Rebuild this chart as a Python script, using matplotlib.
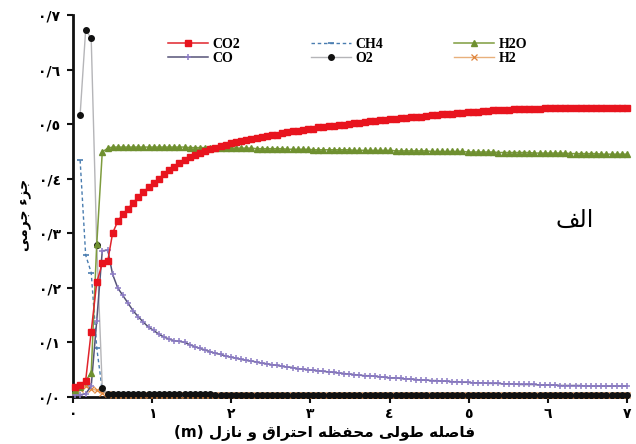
import numpy as np
import matplotlib
matplotlib.use("Agg")
import matplotlib.pyplot as plt

nan = float("nan")

# ---------------- data ----------------
x_pos = [0.02, 0.09, 0.16, 0.23, 0.30, 0.37, 0.44,
         0.5, 0.565, 0.63, 0.695, 0.76, 0.825, 0.89, 0.955, 1.02, 1.085,
         1.15, 1.215, 1.28, 1.345, 1.41, 1.475, 1.54, 1.605, 1.67, 1.735,
         1.8, 1.865, 1.93, 1.995, 2.06, 2.125, 2.19, 2.255, 2.32, 2.385,
         2.45, 2.515, 2.58, 2.645, 2.71, 2.775, 2.84, 2.905, 2.97, 3.035,
         3.1, 3.165, 3.23, 3.295, 3.36, 3.425, 3.49, 3.555, 3.62, 3.685,
         3.75, 3.815, 3.88, 3.945, 4.01, 4.075, 4.14, 4.205, 4.27, 4.335,
         4.4, 4.465, 4.53, 4.595, 4.66, 4.725, 4.79, 4.855, 4.92, 4.985,
         5.05, 5.115, 5.18, 5.245, 5.31, 5.375, 5.44, 5.505, 5.57, 5.635,
         5.7, 5.765, 5.83, 5.895, 5.96, 6.025, 6.09, 6.155, 6.22, 6.285,
         6.35, 6.415, 6.48, 6.545, 6.61, 6.675, 6.74, 6.805, 6.87, 6.935,
         7.0]

co2 = [0.018, 0.022, 0.030, 0.120, 0.210, 0.245, 0.250,
       0.300, 0.322, 0.335, 0.345, 0.356, 0.366, 0.376, 0.384, 0.392, 0.400,
       0.409, 0.416, 0.422, 0.428, 0.434, 0.439, 0.443, 0.447, 0.451, 0.454,
       0.457, 0.460, 0.462, 0.465, 0.467, 0.469, 0.471, 0.472, 0.474, 0.476,
       0.478, 0.480, 0.481, 0.483, 0.485, 0.487, 0.488, 0.490, 0.491, 0.492,
       0.494, 0.495, 0.496, 0.497, 0.498, 0.499, 0.501, 0.502, 0.503, 0.504,
       0.505, 0.506, 0.507, 0.508, 0.509, 0.510, 0.511, 0.512, 0.513, 0.513,
       0.514, 0.515, 0.516, 0.517, 0.518, 0.519, 0.519, 0.520, 0.521, 0.522,
       0.522, 0.523, 0.524, 0.524, 0.525, 0.525, 0.526, 0.526, 0.527, 0.527,
       0.527, 0.528, 0.528, 0.528, 0.529, 0.529, 0.529, 0.529, 0.530, 0.530,
       0.530, 0.530, 0.530, 0.530, 0.530, 0.530, 0.530, 0.530, 0.530, 0.530,
       0.530]

h2o = [0.012, 0.018, 0.030, 0.044, 0.280, 0.449, 0.456,
       0.458, 0.458, 0.458, 0.458, 0.458, 0.458, 0.458, 0.458, 0.458, 0.458,
       0.458, 0.458, 0.458, 0.458, 0.458, 0.457, 0.457, 0.457, 0.457, 0.457,
       0.457, 0.456, 0.456, 0.456, 0.456, 0.456, 0.456, 0.456, 0.455, 0.455,
       0.455, 0.455, 0.455, 0.455, 0.454, 0.454, 0.454, 0.454, 0.454, 0.453,
       0.453, 0.453, 0.453, 0.453, 0.453, 0.453, 0.453, 0.452, 0.452, 0.452,
       0.452, 0.452, 0.452, 0.452, 0.452, 0.451, 0.451, 0.451, 0.451, 0.451,
       0.451, 0.451, 0.450, 0.450, 0.450, 0.450, 0.450, 0.450, 0.450, 0.449,
       0.449, 0.449, 0.449, 0.449, 0.449, 0.448, 0.448, 0.448, 0.448, 0.448,
       0.448, 0.448, 0.447, 0.447, 0.447, 0.447, 0.447, 0.447, 0.447, 0.446,
       0.446, 0.446, 0.446, 0.446, 0.446, 0.445, 0.445, 0.445, 0.445, 0.445,
       0.445]

co = [0.003, 0.004, 0.006, 0.020, 0.140, 0.268, 0.269,
      0.225, 0.200, 0.186, 0.172, 0.158, 0.147, 0.137, 0.128, 0.122, 0.115,
      0.110, 0.106, 0.103, 0.102, 0.100, 0.096, 0.092, 0.089, 0.086, 0.083,
      0.080, 0.078, 0.075, 0.073, 0.071, 0.069, 0.067, 0.066, 0.064, 0.062,
      0.061, 0.059, 0.058, 0.056, 0.055, 0.054, 0.052, 0.051, 0.050, 0.049,
      0.048, 0.047, 0.046, 0.045, 0.044, 0.043, 0.042, 0.041, 0.040, 0.039,
      0.039, 0.038, 0.037, 0.036, 0.035, 0.035, 0.034, 0.033, 0.033, 0.032,
      0.031, 0.031, 0.030, 0.030, 0.029, 0.029, 0.028, 0.028, 0.027, 0.027,
      0.026, 0.026, 0.026, 0.025, 0.025, 0.025, 0.024, 0.024, 0.024, 0.023,
      0.023, 0.023, 0.023, 0.022, 0.022, 0.022, 0.022, 0.021, 0.021, 0.021,
      0.021, 0.021, 0.020, 0.020, 0.020, 0.020, 0.020, 0.020, 0.020, 0.020,
      0.020]

o2 = [nan, 0.517, 0.673, 0.657, 0.279, 0.016, 0.006,
      0.005, 0.005, 0.005, 0.005, 0.005, 0.005, 0.005, 0.005, 0.005, 0.005,
      0.005, 0.005, 0.005, 0.005, 0.005, 0.005, 0.005, 0.005, 0.005, 0.005,
      0.004, 0.004, 0.004, 0.004, 0.004, 0.004, 0.004, 0.004, 0.004, 0.004,
      0.004, 0.004, 0.004, 0.004, 0.004, 0.004, 0.004, 0.004, 0.004, 0.004,
      0.004, 0.004, 0.004, 0.004, 0.004, 0.004, 0.004, 0.004, 0.004, 0.004,
      0.004, 0.004, 0.004, 0.004, 0.004, 0.004, 0.004, 0.004, 0.004, 0.004,
      0.004, 0.004, 0.004, 0.004, 0.004, 0.004, 0.004, 0.004, 0.004, 0.004,
      0.004, 0.004, 0.004, 0.004, 0.004, 0.004, 0.004, 0.004, 0.004, 0.004,
      0.004, 0.004, 0.004, 0.004, 0.004, 0.004, 0.004, 0.004, 0.004, 0.004,
      0.004, 0.004, 0.004, 0.004, 0.004, 0.004, 0.004, 0.004, 0.004, 0.004,
      0.004]

ch4 = [nan, 0.434, 0.260, 0.228, 0.090, 0.012, 0.004,
       0.003, 0.003, 0.003, 0.003, 0.003, 0.003, 0.003, 0.003, 0.003, 0.003,
       0.002, 0.002, 0.002, 0.002, 0.002, 0.002, 0.002, 0.002, 0.002, 0.002,
       0.002, 0.002, 0.002, 0.002, 0.002, 0.002, 0.002, 0.002, 0.002, 0.002,
       0.002, 0.002, 0.002, 0.002, 0.002, 0.002, 0.002, 0.002, 0.002, 0.002,
       0.002, 0.002, 0.002, 0.002, 0.002, 0.002, 0.002, 0.002, 0.002, 0.002,
       0.002, 0.002, 0.002, 0.002, 0.002, 0.002, 0.002, 0.002, 0.002, 0.002,
       0.002, 0.002, 0.002, 0.002, 0.002, 0.002, 0.002, 0.002, 0.002, 0.002,
       0.002, 0.002, 0.002, 0.002, 0.002, 0.002, 0.002, 0.002, 0.002, 0.002,
       0.002, 0.002, 0.002, 0.002, 0.002, 0.002, 0.002, 0.002, 0.002, 0.002,
       0.002, 0.002, 0.002, 0.002, 0.002, 0.002, 0.002, 0.002, 0.002, 0.002,
       0.002]

h2 = [0.010, 0.015, 0.020, 0.015, 0.012, 0.008, 0.006,
      0.004, 0.004, 0.004, 0.004, 0.004, 0.004, 0.004, 0.004, 0.004, 0.004,
      0.003, 0.003, 0.003, 0.003, 0.003, 0.003, 0.003, 0.003, 0.003, 0.003,
      0.003, 0.003, 0.003, 0.003, 0.003, 0.003, 0.003, 0.003, 0.003, 0.003,
      0.003, 0.003, 0.003, 0.003, 0.003, 0.003, 0.003, 0.003, 0.003, 0.003,
      0.003, 0.003, 0.003, 0.003, 0.003, 0.003, 0.003, 0.003, 0.003, 0.003,
      0.003, 0.003, 0.003, 0.003, 0.003, 0.003, 0.003, 0.003, 0.003, 0.003,
      0.003, 0.003, 0.003, 0.003, 0.003, 0.003, 0.003, 0.003, 0.003, 0.003,
      0.003, 0.003, 0.003, 0.003, 0.003, 0.003, 0.003, 0.003, 0.003, 0.003,
      0.003, 0.003, 0.003, 0.003, 0.003, 0.003, 0.003, 0.003, 0.003, 0.003,
      0.003, 0.003, 0.003, 0.003, 0.003, 0.003, 0.003, 0.003, 0.003, 0.003,
      0.003]

x_ticks = [0, 1, 2, 3, 4, 5, 6, 7]
x_tick_labels = ["٠", "١", "٢", "٣", "٤", "٥", "٦", "٧"]
y_ticks = [0.0, 0.1, 0.2, 0.3, 0.4, 0.5, 0.6, 0.7]
y_tick_labels = ["٠/٠", "٠/١", "٠/٢", "٠/٣", "٠/٤", "٠/٥", "٠/٦", "٠/٧"]

x_label_fa = "فاصله طولی محفظه احتراق و نازل"
x_label_unit = "(m)"
y_label_fa = "جزء جرمی"
panel_label = "الف"

# ---------------- simple Arabic-script shaping (matplotlib has no CTL) ----------------
FORMS = {
    "\u0627": ("\uFE8D", "\uFE8E", None, None),
    "\u0641": ("\uFED1", "\uFED2", "\uFED3", "\uFED4"),
    "\u0635": ("\uFEB9", "\uFEBA", "\uFEBB", "\uFEBC"),
    "\u0644": ("\uFEDD", "\uFEDE", "\uFEDF", "\uFEE0"),
    "\u0647": ("\uFEE9", "\uFEEA", "\uFEEB", "\uFEEC"),
    "\u0637": ("\uFEC1", "\uFEC2", "\uFEC3", "\uFEC4"),
    "\u0648": ("\uFEED", "\uFEEE", None, None),
    "\u06CC": ("\uFBFC", "\uFBFD", "\uFBFE", "\uFBFF"),
    "\u0645": ("\uFEE1", "\uFEE2", "\uFEE3", "\uFEE4"),
    "\u062D": ("\uFEA1", "\uFEA2", "\uFEA3", "\uFEA4"),
    "\u0638": ("\uFEC5", "\uFEC6", "\uFEC7", "\uFEC8"),
    "\u062A": ("\uFE95", "\uFE96", "\uFE97", "\uFE98"),
    "\u0631": ("\uFEAD", "\uFEAE", None, None),
    "\u0642": ("\uFED5", "\uFED6", "\uFED7", "\uFED8"),
    "\u0646": ("\uFEE5", "\uFEE6", "\uFEE7", "\uFEE8"),
    "\u0632": ("\uFEAF", "\uFEB0", None, None),
    "\u062C": ("\uFE9D", "\uFE9E", "\uFE9F", "\uFEA0"),
    "\u0621": ("\uFE80", None, None, None),
}


def rtl(s):
    out = []
    n = len(s)
    for i, c in enumerate(s):
        if c not in FORMS:
            out.append(c)
            continue
        iso, fin, ini, med = FORMS[c]
        prev = s[i - 1] if i > 0 else None
        nxt = s[i + 1] if i + 1 < n else None
        a = prev in FORMS and FORMS[prev][2] is not None and fin is not None
        b = nxt in FORMS and FORMS[nxt][1] is not None and ini is not None
        if a and b:
            out.append(med)
        elif a:
            out.append(fin)
        elif b:
            out.append(ini)
        else:
            out.append(iso)
    return "".join(out)[::-1]


# ---------------- figure ----------------
W, H = 636, 444
fig = plt.figure(figsize=(W / 100, H / 100), dpi=100)
fig.patch.set_facecolor("white")
ax = fig.add_axes([73 / W, 47 / H, (627 - 73) / W, (397 - 15) / H])

common = dict(clip_on=False)
ax.plot(x_pos, h2, color="#e8b07c", lw=1.0, marker="x", ms=3.8, mew=0.9,
        mec="#e0843a", label="H2", zorder=3, **common)
ax.plot(x_pos, ch4, color="#4a7db0", lw=1.0, ls=(0, (2.5, 2)), marker="_", ms=5,
        mew=1.2, mec="#4a7db0", label="CH4", zorder=4, **common)
ax.plot(x_pos, o2, color="#b5b5b8", lw=1.0, marker="o", ms=4.0, mfc="#111111",
        mec="#111111", label="O2", zorder=4, **common)
ax.plot(x_pos, co, color="#565478", lw=1.1, marker="+", ms=4.2, mew=1.1,
        mec="#8c7cc4", label="CO", zorder=5, **common)
ax.plot(x_pos, h2o, color="#7e9c3e", lw=1.1, marker="^", ms=4.6, mfc="#6f9030",
        mec="#6f9030", label="H2O", zorder=5, **common)
ax.plot(x_pos, co2, color="#e0242c", lw=1.1, marker="s", ms=3.7, mfc="#e8141e",
        mec="#e8141e", label="CO2", zorder=6, **common)

ax.set_xlim(0, 7)
ax.set_ylim(0, 0.7)
for s in ("top", "right"):
    ax.spines[s].set_visible(False)
for s in ("left", "bottom"):
    ax.spines[s].set_linewidth(2.0)
    ax.spines[s].set_color("#111111")
    ax.spines[s].set_zorder(2)

ax.set_xticks(x_ticks)
ax.set_xticklabels(x_tick_labels, fontsize=10, fontweight="bold", family="DejaVu Sans")
ax.set_yticks(y_ticks)
ax.set_yticklabels(y_tick_labels, fontsize=10, fontweight="bold", family="DejaVu Sans")
ax.tick_params(axis="both", direction="out", length=4, width=1.5, color="#111111")
ax.tick_params(axis="x", pad=3)
ax.tick_params(axis="y", pad=5)

# axis labels
fig.text(325 / W, 1 - 433 / H, x_label_unit + " " + rtl(x_label_fa), ha="center",
         va="center", fontsize=11, fontweight="bold", family="DejaVu Sans")
fig.text(24 / W, 1 - 215 / H, rtl(y_label_fa), ha="center", va="center",
         rotation=90, fontsize=10, fontweight="bold", family="DejaVu Sans")
fig.text(575 / W, 1 - 220 / H, rtl(panel_label), ha="center", va="center",
         fontsize=17, family="DejaVu Sans")

# legend: order so that 3 columns read CO2/CO, CH4/O2, H2O/H2
handles, labels = ax.get_legend_handles_labels()
lookup = dict(zip(labels, handles))
order = ["CO2", "CO", "CH4", "O2", "H2O", "H2"]
leg = fig.legend([lookup[k] for k in order], order, loc="upper left",
                 bbox_to_anchor=(161 / W, 1 - 31 / H), ncol=3, frameon=False,
                 numpoints=1, handlelength=2.9, handletextpad=0.3,
                 columnspacing=5.1, labelspacing=0.05, borderpad=0,
                 prop={"family": "Liberation Serif", "weight": "bold", "size": 10})

fig.savefig("out.png", dpi=100, facecolor="white")
